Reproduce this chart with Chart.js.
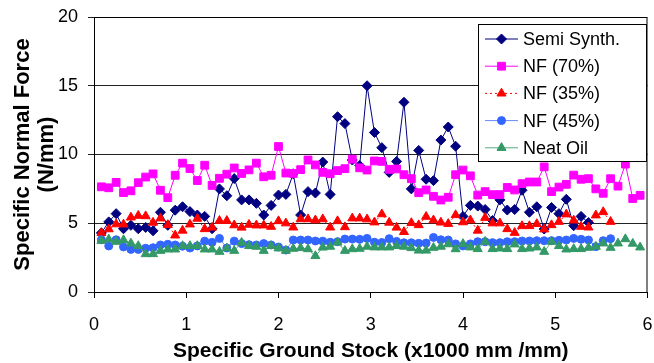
<!DOCTYPE html>
<html>
<head>
<meta charset="utf-8">
<script src="https://cdn.jsdelivr.net/npm/chart.js@4/dist/chart.umd.min.js"></script>
<style>
  html, body { margin: 0; padding: 0; background: #fff; }
  #wrap { width: 654px; height: 363px; }
</style>
</head>
<body>
<div id="wrap"><canvas id="chart" width="654" height="363"></canvas></div>
<script>
// ---- data ----
// specific ground stock (x1000 mm3/mm), sample positions
const stock = [
  0.08,0.16,0.24,0.32,0.40,0.48,0.56,0.64,0.72,0.80,
  0.88,0.96,1.04,1.12,1.20,1.28,1.36,1.44,1.52,1.60,
  1.68,1.76,1.84,1.92,2.00,2.08,2.16,2.24,2.32,2.40,
  2.48,2.56,2.64,2.72,2.80,2.88,2.96,3.04,3.12,3.20,
  3.28,3.36,3.44,3.52,3.60,3.68,3.76,3.84,3.92,4.00,
  4.08,4.16,4.24,4.32,4.40,4.48,4.56,4.64,4.72,4.80,
  4.88,4.96,5.04,5.12,5.20,5.28,5.36,5.44,5.52,5.60,
  5.68,5.76,5.84,5.92
];

const semiSynth = [
  4.3,5.1,5.7,4.6,4.85,4.6,4.7,4.45,5.8,4.85,
  5.95,6.2,5.85,5.6,5.5,4.6,7.5,7.0,8.25,6.7,
  6.7,6.45,5.6,6.3,7.05,7.1,8.6,5.6,7.3,7.2,
  9.45,7.1,12.75,12.25,9.6,9.2,15.0,11.6,10.5,8.7,
  9.5,13.8,7.5,10.3,8.2,8.1,11.05,12.0,10.6,5.5,
  6.3,6.25,6.0,5.2,6.7,5.96,6.0,7.4,5.8,6.2,
  4.58,6.15,5.7,6.74,4.82,5.5,5.05
];

const nf70 = [
  7.65,7.58,7.97,7.23,7.36,7.95,8.36,8.59,7.4,6.86,
  8.49,9.37,8.98,8.11,9.22,7.75,8.27,8.57,9.02,8.62,
  8.88,9.37,8.38,8.49,10.58,8.65,8.62,8.9,9.6,9.24,
  8.7,8.6,8.83,8.97,9.66,9.03,8.87,9.53,9.5,8.92,
  8.95,8.53,8.24,7.22,7.42,6.96,6.69,6.89,8.53,8.87,
  8.45,7.05,7.3,7.08,7.08,7.6,7.42,7.88,8.0,8.0,
  9.1,7.3,7.63,7.83,8.5,8.2,8.24,7.5,7.18,8.24,
  7.7,9.3,6.8,7.03
];

const nf35 = [
  4.3,4.57,4.93,4.92,5.43,5.55,5.52,5.05,5.36,4.88,
  4.12,4.47,4.92,5.34,4.58,4.69,5.18,5.18,4.86,4.69,
  4.9,4.85,4.85,4.75,5.16,5.0,4.7,5.3,5.3,5.22,
  5.3,4.7,5.16,4.72,5.36,5.36,5.29,5.07,5.66,5.05,
  4.69,4.37,5.02,4.87,5.48,5.22,5.06,4.96,5.6,5.08,
  5.22,4.47,5.4,5.0,5.0,4.58,4.31,4.8,4.8,4.95,
  4.56,4.87,5.11,5.65,5.21,4.75,4.7,5.58,5.82,5.11
];

const nf45 = [
  3.8,3.35,3.8,3.28,3.1,3.1,3.18,3.22,3.42,3.47,
  3.42,3.33,3.2,3.35,3.7,3.61,3.9,3.2,3.7,3.52,
  3.44,3.42,3.52,3.42,3.27,3.05,3.78,3.78,3.78,3.71,
  3.7,3.62,3.66,3.85,3.85,3.83,3.9,3.62,3.6,3.88,
  3.68,3.58,3.58,3.54,3.56,3.97,3.8,3.78,3.5,3.35,
  3.5,3.66,3.66,3.59,3.59,3.66,3.66,3.71,3.71,3.73,
  3.73,3.73,3.76,3.78,3.9,3.83,3.78,3.3,3.73,3.88
];

const neatOil = [
  3.73,3.83,3.66,3.78,3.54,3.35,2.76,2.76,3.0,3.1,
  3.1,3.35,3.35,3.35,3.1,3.1,2.93,3.18,3.0,3.59,
  3.35,3.3,3.0,3.35,3.18,3.0,3.15,3.2,3.12,2.62,
  3.24,3.3,3.6,3.0,3.12,3.15,3.3,3.25,3.25,3.25,
  3.35,3.3,3.2,3.02,3.02,3.22,3.3,3.48,3.12,3.5,
  3.25,3.13,3.66,3.13,3.17,3.13,3.47,3.13,3.17,3.25,
  2.93,3.66,3.35,3.1,3.13,3.13,3.22,3.3,3.54,3.22,
  3.54,3.85,3.52,3.25
];

const seriesNames = ['Semi Synth.', 'NF (70%)', 'NF (35%)', 'NF (45%)', 'Neat Oil'];
const xTicks = [0, 1, 2, 3, 4, 5, 6];
const yTicks = [0, 5, 10, 15, 20];

const FONT = '"Liberation Sans", Arial, sans-serif';

// ---- helpers ----
function pairs(values){
  return values.map((v, i) => ({ x: stock[i], y: v }));
}

function makeSet(label, values, color, lineColor, style, radius, dash, order){
  return {
    label: label,
    data: pairs(values),
    borderColor: lineColor,
    backgroundColor: color,
    borderWidth: 1,
    borderDash: dash,
    pointStyle: style,
    pointRadius: radius,
    pointBackgroundColor: color,
    pointBorderColor: color,
    pointBorderWidth: 1,
    tension: 0,
    order: order
  };
}

// plot frame (top + right edges)
const framePlugin = {
  id: 'frame',
  afterDatasetsDraw(chart){
    const a = chart.chartArea, ctx = chart.ctx;
    ctx.save();
    ctx.strokeStyle = '#000';
    ctx.lineWidth = 1;
    ctx.beginPath();
    ctx.moveTo(a.left, a.top + 0.5);
    ctx.lineTo(a.right - 0.5, a.top + 0.5);
    ctx.lineTo(a.right - 0.5, a.bottom);
    ctx.stroke();
    ctx.restore();
  }
};

// legend box inside the plot, top right
const boxLegend = {
  id: 'boxLegend',
  afterDraw(chart){
    const ctx = chart.ctx;
    const bx = 478, by = 24, bw = 168, bh = 137;
    ctx.save();
    ctx.fillStyle = '#fff';
    ctx.fillRect(bx, by, bw, bh);
    ctx.strokeStyle = '#000';
    ctx.lineWidth = 1;
    ctx.strokeRect(bx + 0.5, by + 0.5, bw, bh);
    ctx.font = '18px ' + FONT;
    ctx.textBaseline = 'middle';
    chart.data.datasets.forEach((ds, i) => {
      const y = 39 + i * 27.2;
      ctx.strokeStyle = ds.borderColor;
      ctx.lineWidth = 1;
      ctx.setLineDash(ds.borderDash || []);
      ctx.beginPath();
      ctx.moveTo(485, y);
      ctx.lineTo(518, y);
      ctx.stroke();
      ctx.setLineDash([]);
      ctx.fillStyle = ds.pointBackgroundColor;
      ctx.strokeStyle = ds.pointBorderColor;
      Chart.helpers.drawPoint(ctx, {
        pointStyle: ds.pointStyle, radius: ds.pointRadius, rotation: 0, borderWidth: 1
      }, 501.5, y);
      ctx.fillStyle = '#000';
      ctx.fillText(ds.label, 523, y + 1);
    });
    ctx.restore();
  }
};

new Chart(document.getElementById('chart'), {
  type: 'line',
  data: {
    datasets: [
      makeSet(seriesNames[0], semiSynth, '#000080', '#000080', 'rectRot', 5, [], 5),
      makeSet(seriesNames[1], nf70, '#ff00ff', '#ff00ff', 'rect', 5.5, [], 4),
      makeSet(seriesNames[2], nf35, '#ff0000', '#ff0000', 'triangle', 5.2, [2, 3], 3),
      makeSet(seriesNames[3], nf45, '#3366ff', '#6688ff', 'circle', 4, [], 2),
      makeSet(seriesNames[4], neatOil, '#339966', '#55aa80', 'triangle', 5.2, [], 1)
    ]
  },
  options: {
    responsive: false,
    animation: false,
    devicePixelRatio: 1,
    layout: { padding: { left: 0, right: 4, top: 17, bottom: 0 } },
    plugins: {
      legend: { display: false },
      tooltip: { enabled: false }
    },
    scales: {
      x: {
        type: 'linear',
        min: 0, max: 6,
        afterBuildTicks: s => { s.ticks = xTicks.map(v => ({ value: v })); },
        afterFit: s => { s.height = 71; s.paddingLeft = 0; s.paddingRight = 0; },
        border: { display: true, color: '#000', width: 1 },
        grid: { drawOnChartArea: false, drawTicks: true, tickLength: 6, color: '#000' },
        ticks: {
          color: '#000', padding: 16,
          font: { family: FONT, size: 18 }
        },
        title: {
          display: true,
          text: 'Specific Ground Stock (x1000 mm /mm)',
          color: '#000',
          padding: { top: 0, bottom: 0 },
          font: { family: FONT, size: 21, weight: 'bold', lineHeight: 1.1 }
        }
      },
      y: {
        min: 0, max: 20,
        afterBuildTicks: s => { s.ticks = yTicks.map(v => ({ value: v })); },
        afterFit: s => { s.width = 94; s.paddingTop = 0; s.paddingBottom = 0; },
        border: { display: true, color: '#000', width: 1 },
        grid: { color: '#222', lineWidth: 1, drawTicks: true, tickLength: 6 },
        ticks: {
          color: '#000', padding: 10,
          font: { family: FONT, size: 18 }
        },
        title: {
          display: true,
          text: ['Specific Normal Force', '(N/mm)'],
          color: '#000',
          padding: { top: 11, bottom: 0 },
          font: { family: FONT, size: 22, weight: 'bold', lineHeight: 1.09 }
        }
      }
    }
  },
  plugins: [framePlugin, boxLegend]
});
</script>
</body>
</html>
